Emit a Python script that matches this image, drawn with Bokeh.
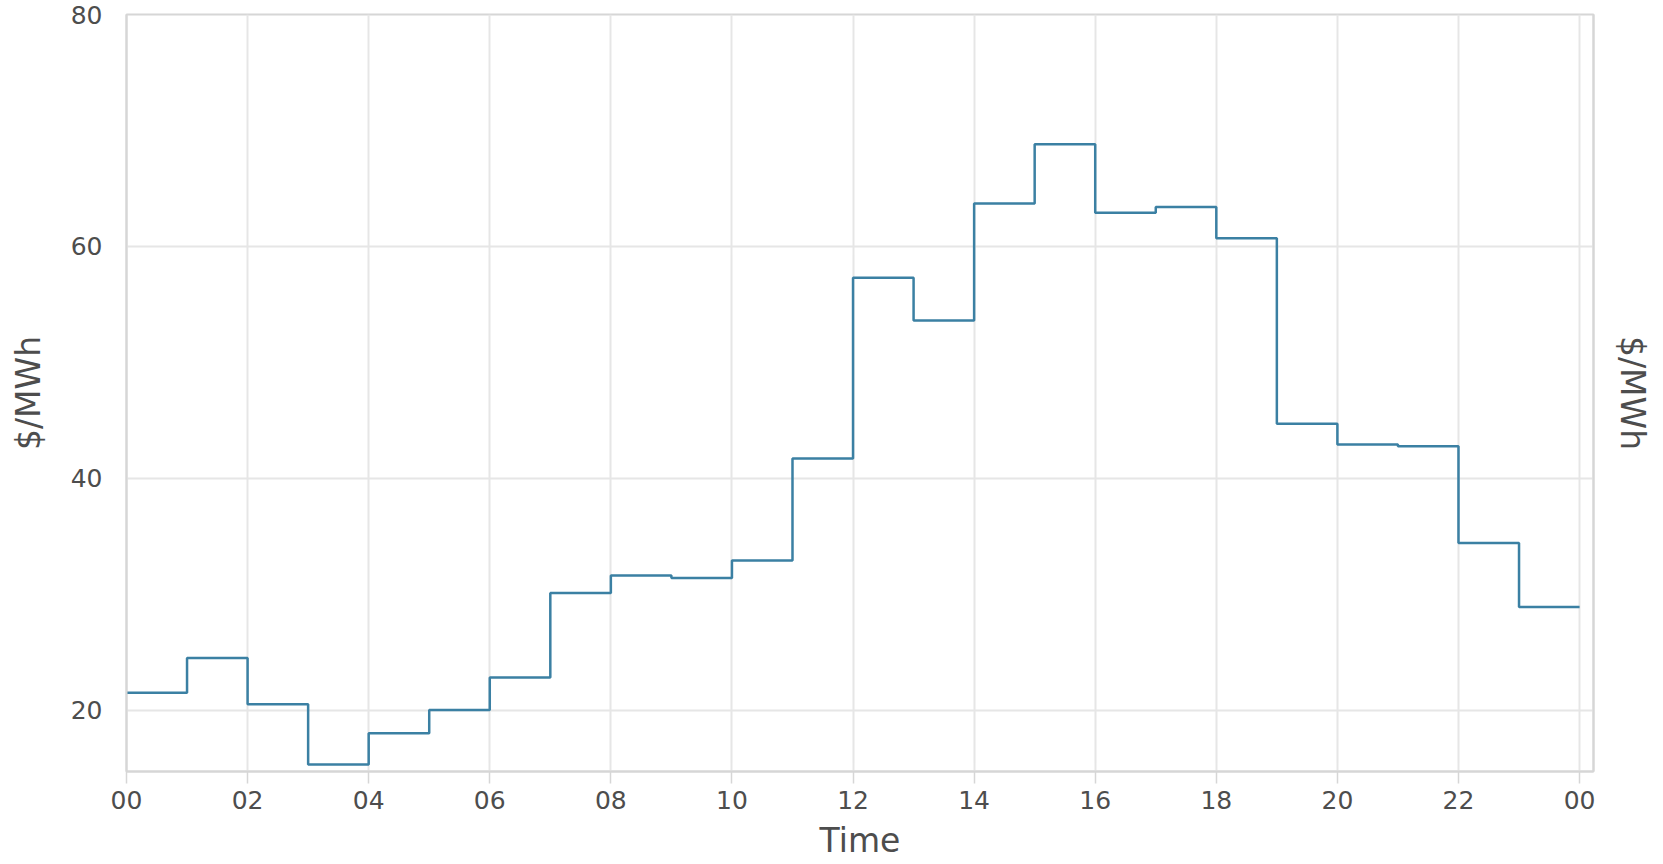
from bokeh.plotting import figure
from bokeh.models import Range1d, LinearAxis, FixedTicker
from bokeh.embed import file_html
from bokeh.resources import INLINE

# ---- data ----
hours = list(range(24))
prices = [21.5, 24.5, 20.5, 15.3, 18.0, 20.0, 22.8, 30.1, 31.6, 31.4, 32.9, 41.7,
          57.3, 53.6, 63.7, 68.8, 62.9, 63.4, 60.7, 44.7, 42.9, 42.75, 34.4, 28.9]
x_ticks = list(range(0, 25, 2))
x_tick_labels = ["00", "02", "04", "06", "08", "10", "12", "14", "16", "18", "20", "22", "00"]
y_ticks = [20, 40, 60, 80]
x_label = "Time"
y_label = "$/MWh"

# step line holds the last hour's value until the end of the day
step_x = hours + [hours[-1] + 1]
step_y = prices + [prices[-1]]

FONT = "DejaVu Sans"
GRID = "#e6e6e6"
AXIS = "#d6d6d6"
LABEL = "#4d4d4d"

p = figure(width=1663, height=864, output_backend="svg", toolbar_location=None,
           x_range=Range1d(0, 24.23), y_range=Range1d(14.7, 80),
           min_border_left=126, min_border_right=70, min_border_top=14, min_border_bottom=93,
           background_fill_color="white", border_fill_color="white")

p.step(step_x, step_y, mode="after", line_color="#3b80a3", line_width=2.5)

p.outline_line_color = AXIS
p.outline_line_width = 2

# x axis
xa = p.xaxis[0]
xa.ticker = FixedTicker(ticks=x_ticks)
xa.major_label_overrides = {t: l for t, l in zip(x_ticks, x_tick_labels)}
xa.axis_label = x_label
xa.axis_line_color = AXIS
xa.axis_line_width = 2
xa.major_tick_line_color = AXIS
xa.major_tick_line_width = 1.5
xa.major_tick_out = 12
xa.major_tick_in = 0
xa.minor_tick_line_color = None
xa.major_label_standoff = 7
xa.axis_label_standoff = 9
xa.major_label_text_font = FONT
xa.major_label_text_font_size = "25px"
xa.major_label_text_color = LABEL
xa.axis_label_text_font = FONT
xa.axis_label_text_font_size = "33px"
xa.axis_label_text_font_style = "normal"
xa.axis_label_text_color = LABEL

# left y axis
ya = p.yaxis[0]
ya.ticker = FixedTicker(ticks=y_ticks)
ya.axis_label = y_label
ya.axis_line_color = AXIS
ya.axis_line_width = 2
ya.major_tick_line_color = None
ya.minor_tick_line_color = None
ya.major_tick_out = 0
ya.major_tick_in = 0
ya.major_label_standoff = 24
ya.axis_label_standoff = 20
ya.major_label_text_font = FONT
ya.major_label_text_font_size = "25px"
ya.major_label_text_color = LABEL
ya.axis_label_text_font = FONT
ya.axis_label_text_font_size = "33px"
ya.axis_label_text_font_style = "normal"
ya.axis_label_text_color = LABEL

# right y axis (label only)
ra = LinearAxis(ticker=FixedTicker(ticks=[]), axis_label=y_label)
ra.axis_line_color = AXIS
ra.axis_line_width = 2
ra.major_tick_line_color = None
ra.minor_tick_line_color = None
ra.major_label_text_font_size = "0px"
ra.major_label_standoff = 0
ra.axis_label_standoff = 19
ra.axis_label_text_font = FONT
ra.axis_label_text_font_size = "33px"
ra.axis_label_text_font_style = "normal"
ra.axis_label_text_color = LABEL
p.add_layout(ra, "right")

# grids
p.xgrid.ticker = FixedTicker(ticks=x_ticks)
p.ygrid.ticker = FixedTicker(ticks=y_ticks)
p.xgrid.grid_line_color = GRID
p.ygrid.grid_line_color = GRID
p.xgrid.grid_line_width = 2
p.ygrid.grid_line_width = 2

open("out.html", "w").write(file_html(p, INLINE))
